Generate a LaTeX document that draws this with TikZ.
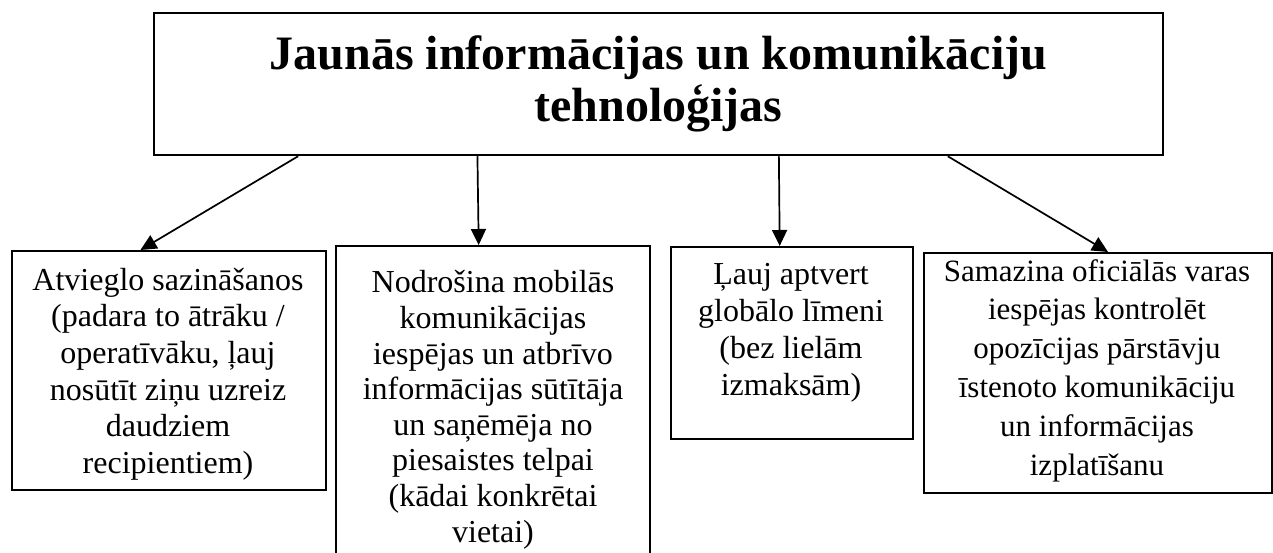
\documentclass[tikz,border=0pt]{standalone}
\usepackage{fontspec}
\setmainfont{Liberation Serif}
\usetikzlibrary{arrows.meta,calc}

\begin{document}
\begin{tikzpicture}[x=1pt, y=-1pt,
    box/.style={draw, line width=1.8pt, inner sep=0pt, anchor=north west},
    txt/.style={inner sep=0pt, align=center, anchor=base, font=\fontsize{32}{36.7}\selectfont},
    link/.style={line width=1.7pt, -{Triangle[length=16pt, width=15pt]}}]
    \useasboundingbox (0,0) rectangle (1273,553);
    \clip (0,0) rectangle (1273,553);

    % Title
    \node[draw, line width=2.5pt, minimum width=1009pt, minimum height=142pt, align=center, font=\bfseries\fontsize{48}{52}\selectfont] (ict) at (658.5,84) {Jaunās informācijas un komunikāciju\\tehnoloģijas};

    % Boxes
    \node[box, minimum width=314pt, minimum height=239pt] (b1) at (11,250) {};
    \node[box, minimum width=314pt, minimum height=330pt] (b2) at (335,245) {};
    \node[box, minimum width=242pt, minimum height=192pt] (b3) at (670,246) {};
    \node[box, minimum width=348pt, minimum height=240pt] (b4) at (923,252) {};

    % Texts (placed at the baseline of their last line)
    \node[txt] (t1) at (168,473.5) {Atvieglo sazināšanos\\(padara to ātrāku /\\operatīvāku, ļauj\\nosūtīt ziņu uzreiz\\daudziem\\recipientiem)};
    \node[txt, font=\fontsize{32}{35.6}\selectfont] (t2) at (493,542) {Nodrošina mobilās\\komunikācijas\\iespējas un atbrīvo\\informācijas sūtītāja\\un saņēmēja no\\piesaistes telpai\\(kādai konkrētai\\vietai)};
    \node[txt] (t3) at (791,395) {Ļauj aptvert\\globālo līmeni\\(bez lielām\\izmaksām)};
    \node[txt, font=\fontsize{31}{38.8}\selectfont] (t4) at (1097,475) {Samazina oficiālās varas\\iespējas kontrolēt\\opozīcijas pārstāvju\\īstenoto komunikāciju\\un informācijas\\izplatīšanu};

    % Arrows
    \draw[link] ($(ict.south west)!0.1437!(ict.south east)$) -- ($(b1.north west)!0.41!(b1.north east)$);
    \draw[link] ($(ict.south west)!0.321!(ict.south east)$) -- ($(b2.north west)!0.455!(b2.north east)$);
    \draw[link] ($(ict.south west)!0.619!(ict.south east)$) -- ($(b3.north west)!0.45!(b3.north east)$);
    \draw[link] ($(ict.south west)!0.786!(ict.south east)$) -- ($(b4.north west)!0.529!(b4.north east)$);
\end{tikzpicture}
\end{document}
